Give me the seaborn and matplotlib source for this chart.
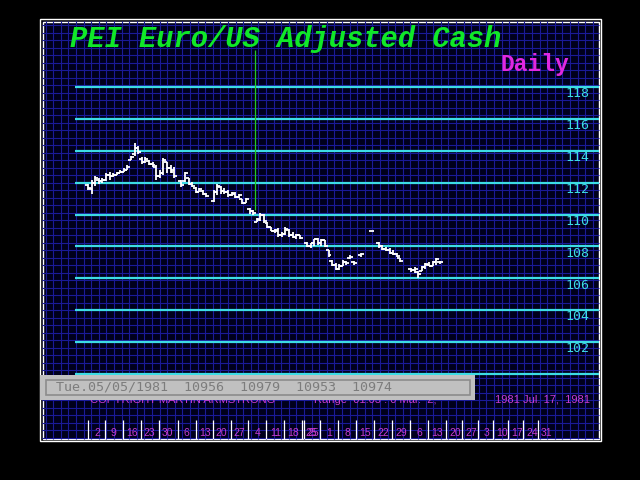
import numpy as np
import matplotlib
matplotlib.use("Agg")
import matplotlib.pyplot as plt
import matplotlib.transforms as mtransforms
from matplotlib.patches import Rectangle
import seaborn as sns

# =============================================
# 数据：日线 OHLC，索引 0 = 1981-03-02
# =============================================
N = np.nan
highs = [111.95, 112.2, 112.45, 112.3, 112.3, 112.6, 112.7, 112.6, 112.7, 112.8,
         112.9, 113.1, 113.7, 114.5, 114.3, 113.6, 113.6, 113.4, 113.3, 113.1,
         112.8, 113.55, 113.3, 113.1, 113.0, N, 112.15, 112.7, 112.3, 112.05,
         111.75, 111.7, 111.55, 111.35, N, 111.55, 111.9, 111.8, 111.7, 111.55,
         111.45, 111.4, 111.3, 111.0, 111.05, 110.4, 110.3, 109.79, 110.1, 110.05,
         109.55, 109.25, 109.1, 109.15, 108.9, 109.2, 109.1, 108.9, 108.8, 108.75,
         N, 108.3, 108.25, 108.5, 108.55, 108.45, 108.4, 107.8, 107.15, 106.95,
         106.9, 107.15, 107.1, 107.45, 107.1, N, 107.6, N, N, 109.0,
         N, 108.3, 108.1, 107.95, 107.9, 107.8, 107.6, 107.3, N, N,
         106.65, 106.7, 106.45, 106.8, 106.95, 107.0, 107.1, 107.3, 107.1]
lows = [111.55, 111.3, 111.8, 111.95, 112.0, 112.1, 112.2, 112.35, 112.5, 112.6,
        112.65, 112.8, 113.4, 113.7, 113.8, 113.2, 113.25, 113.1, 113.0, 112.2,
        112.3, 112.5, 112.6, 112.6, 112.3, N, 111.75, 112.05, 111.85, 111.75,
        111.35, 111.4, 111.25, 111.1, N, 110.8, 111.25, 111.3, 111.3, 111.1,
        111.15, 111.05, 111.05, 110.65, 110.7, 110.05, 109.95, 109.53, 109.6, 109.45,
        109.15, 108.95, 108.85, 108.6, 108.6, 108.7, 108.6, 108.55, 108.45, 108.5,
        N, 107.95, 107.9, 108.0, 108.1, 108.05, 107.95, 107.35, 106.75, 106.5,
        106.55, 106.75, 106.85, 107.2, 106.85, N, 107.35, N, N, 109.0,
        N, 107.9, 107.75, 107.7, 107.55, 107.45, 107.35, 107.05, N, N,
        106.4, 106.35, 106.0, 106.45, 106.6, 106.75, 106.75, 106.85, 106.9]
opens = [111.85, 111.6, 112.0, 112.2, 112.1, 112.2, 112.5, 112.4, 112.5, 112.6,
         112.7, 112.8, 113.45, 113.8, 114.2, 113.5, 113.3, 113.35, 113.2, 113.0,
         112.4, 112.6, 113.3, 112.9, 112.8, N, 112.1, 112.1, 112.3, 111.95,
         111.7, 111.45, 111.5, 111.3, N, 110.85, 111.4, 111.75, 111.5, 111.4,
         111.2, 111.3, 111.1, 110.95, 110.75, 110.35, 110.2, 109.56, 109.65, 110.0,
         109.5, 109.2, 109.0, 109.05, 108.7, 108.8, 109.05, 108.7, 108.6, 108.7,
         N, 108.25, 108.0, 108.2, 108.45, 108.2, 108.4, 107.75, 107.1, 106.85,
         106.6, 106.8, 107.05, 107.3, 107.0, N, 107.45, N, N, 109.0,
         N, 108.2, 108.0, 107.85, 107.8, 107.6, 107.5, 107.25, N, N,
         106.6, 106.5, 106.4, 106.45, 106.7, 106.85, 106.8, 107.0, 107.05]
closes = [111.7, 112.0, 112.3, 112.1, 112.2, 112.5, 112.4, 112.5, 112.6, 112.7,
          112.8, 113.0, 113.6, 114.2, 113.9, 113.3, 113.5, 113.2, 113.1, 112.4,
          112.6, 113.4, 112.9, 112.7, 112.4, N, 111.85, 112.6, 111.95, 111.8,
          111.45, 111.6, 111.3, 111.15, N, 111.4, 111.8, 111.5, 111.4, 111.2,
          111.35, 111.1, 111.2, 110.75, 110.95, 110.2, 110.1, 109.74, 110.0, 109.6,
          109.25, 109.0, 108.95, 108.7, 108.8, 109.1, 108.7, 108.6, 108.7, 108.55,
          N, 108.0, 108.2, 108.45, 108.2, 108.4, 108.0, 107.45, 106.85, 106.6,
          106.75, 107.05, 106.95, 107.35, 106.95, N, 107.5, N, N, 109.0,
          N, 108.0, 107.85, 107.8, 107.6, 107.55, 107.4, 107.1, N, N,
          106.5, 106.6, 106.3, 106.7, 106.9, 106.8, 107.0, 107.2, 107.0]

price_levels = [100, 102, 104, 106, 108, 110, 112, 114, 116, 118]
level_labels = ["", "102", "104", "106", "108", "110", "112", "114", "116", "118"]

# 周线刻度（交易日索引）及标签
week_ticks = [0, 4.7, 9.7, 14.7, 19.7, 25, 30, 34.7, 39.7, 44.7, 49.7, 54.7, 59.7, 60.3,
              64.7, 69.7, 74.7, 79.7, 84.7, 89.7, 94.7, 99.7, 104.2, 108.6, 112.8,
              117, 121.2, 125.3]
week_labels = ["2", "9", "16", "23", "30", "6", "13", "20", "27", "4", "11", "18", "25",
               "25", "1", "8", "15", "22", "29", "6", "13", "20", "27", "3", "10", "17",
               "24", "31"]

cursor_day = 46.6
cursor_top, cursor_bottom = 120.33, 110.29

TITLE = "PEI Euro/US Adjusted Cash"
PERIOD = "Daily"
STATUS = "Tue.05/05/1981  10956  10979  10953  10974"
COPYRIGHT = "COPYRIGHT MARTIN ARMSTRONG"
RANGE_TXT = "Range  01.03 : 0 Mar.  2,"
DATE_TXT = "1981 Jul. 17,  1981"

# =============================================
# 样式
# =============================================
sns.set_theme(style="dark")
plt.rcParams['font.family'] = ['DejaVu Sans']

NAVY = "#00001c"
GRID = "#1a1a98"
CYAN = "#3cdce4"
WHITE = "#ffffff"
MAGENTA = "#c83cd0"

fig = plt.figure(figsize=(6.4, 4.8), dpi=100, facecolor="black")

# 背景层（像素坐标）
bg = fig.add_axes([0, 0, 1, 1])
bg.set_xlim(0, 640)
bg.set_ylim(480, 0)
bg.axis("off")
bg.set_zorder(0)
bg.add_patch(Rectangle((42, 21), 557, 418, facecolor=NAVY, edgecolor="none"))
bg.vlines(np.arange(45.5, 599, 7.6), 21, 439, color=GRID, lw=0.8)
bg.hlines(np.arange(25, 439, 7.5), 42, 599, color=GRID, lw=0.8)
bg.add_patch(Rectangle((40, 19), 561, 422, fill=False, edgecolor=WHITE, lw=1.0))
bg.add_patch(Rectangle((42.5, 21.5), 556, 417, fill=False, edgecolor=WHITE, lw=1.0))

# 主图层（数据坐标）
ax = fig.add_axes([42 / 640, 1 - 439 / 480, 557 / 640, 418 / 480])
ax.set_facecolor("none")
ax.set_zorder(1)
ax.set_xlim(-12.81, 142.34)
ax.set_ylim(95.92, 122.15)
ax.axis("off")

ax.hlines(price_levels, -3.6, 142.34, color=CYAN, lw=1.6)
for lv, lab in zip(price_levels, level_labels):
    if lab:
        ax.text(139.8, lv - 0.42, lab, color=CYAN, ha="right", va="center",
                fontsize=9.5, family="DejaVu Sans Mono")

ax.vlines(cursor_day, cursor_bottom, cursor_top, color="#22cc22", lw=0.9)

days = np.arange(len(highs))
h = np.array(highs, dtype=float)
l = np.array(lows, dtype=float)
o = np.array(opens, dtype=float)
c = np.array(closes, dtype=float)
ok = ~np.isnan(h)
ax.vlines(days[ok], l[ok], h[ok], color=WHITE, lw=1.3)
ax.hlines(o[ok], days[ok] - 0.8, days[ok], color=WHITE, lw=1.3)
ax.hlines(c[ok], days[ok], days[ok] + 0.8, color=WHITE, lw=1.3)

trans = mtransforms.blended_transform_factory(ax.transData, ax.transAxes)
ax.vlines(week_ticks, 0, 0.0455, color=WHITE, lw=0.9, transform=trans)
for t, lab in zip(week_ticks, week_labels):
    ax.text(t + 2.5, 0.0150, lab, color=MAGENTA, ha="center", va="center",
            fontsize=7.5, family="Liberation Sans", transform=trans)

# 文字层（像素坐标）
top = fig.add_axes([0, 0, 1, 1])
top.set_xlim(0, 640)
top.set_ylim(480, 0)
top.axis("off")
top.set_facecolor("none")
top.set_zorder(2)

top.text(70, 47, TITLE, color="#10e828", fontsize=20.7, family="Liberation Mono",
         weight="bold", style="italic", ha="left", va="baseline")
top.text(500, 71, PERIOD, color="#e028e0", fontsize=16.5, family="Liberation Mono",
         weight="bold", ha="left", va="baseline")

top.text(90, 400, COPYRIGHT, color=MAGENTA, fontsize=8, family="Liberation Sans",
         ha="left", va="center", zorder=1)
top.text(314, 400, RANGE_TXT, color=MAGENTA, fontsize=8, family="Liberation Sans",
         ha="left", va="center", zorder=1)
top.text(590, 400, DATE_TXT, color=MAGENTA, fontsize=8, family="Liberation Sans",
         ha="right", va="center", zorder=1)

top.add_patch(Rectangle((40, 375), 435, 25, facecolor="#c0c0c0", edgecolor="none", zorder=3))
top.add_patch(Rectangle((45.5, 379.5), 424, 15, fill=False, edgecolor="#8c8c8c", lw=1.2, zorder=4))
top.text(56, 387.5, STATUS, color="#7c7c7c", fontsize=9.6, family="DejaVu Sans Mono",
         ha="left", va="center", zorder=5)

fig.savefig("out.png", dpi=100, facecolor="black")
